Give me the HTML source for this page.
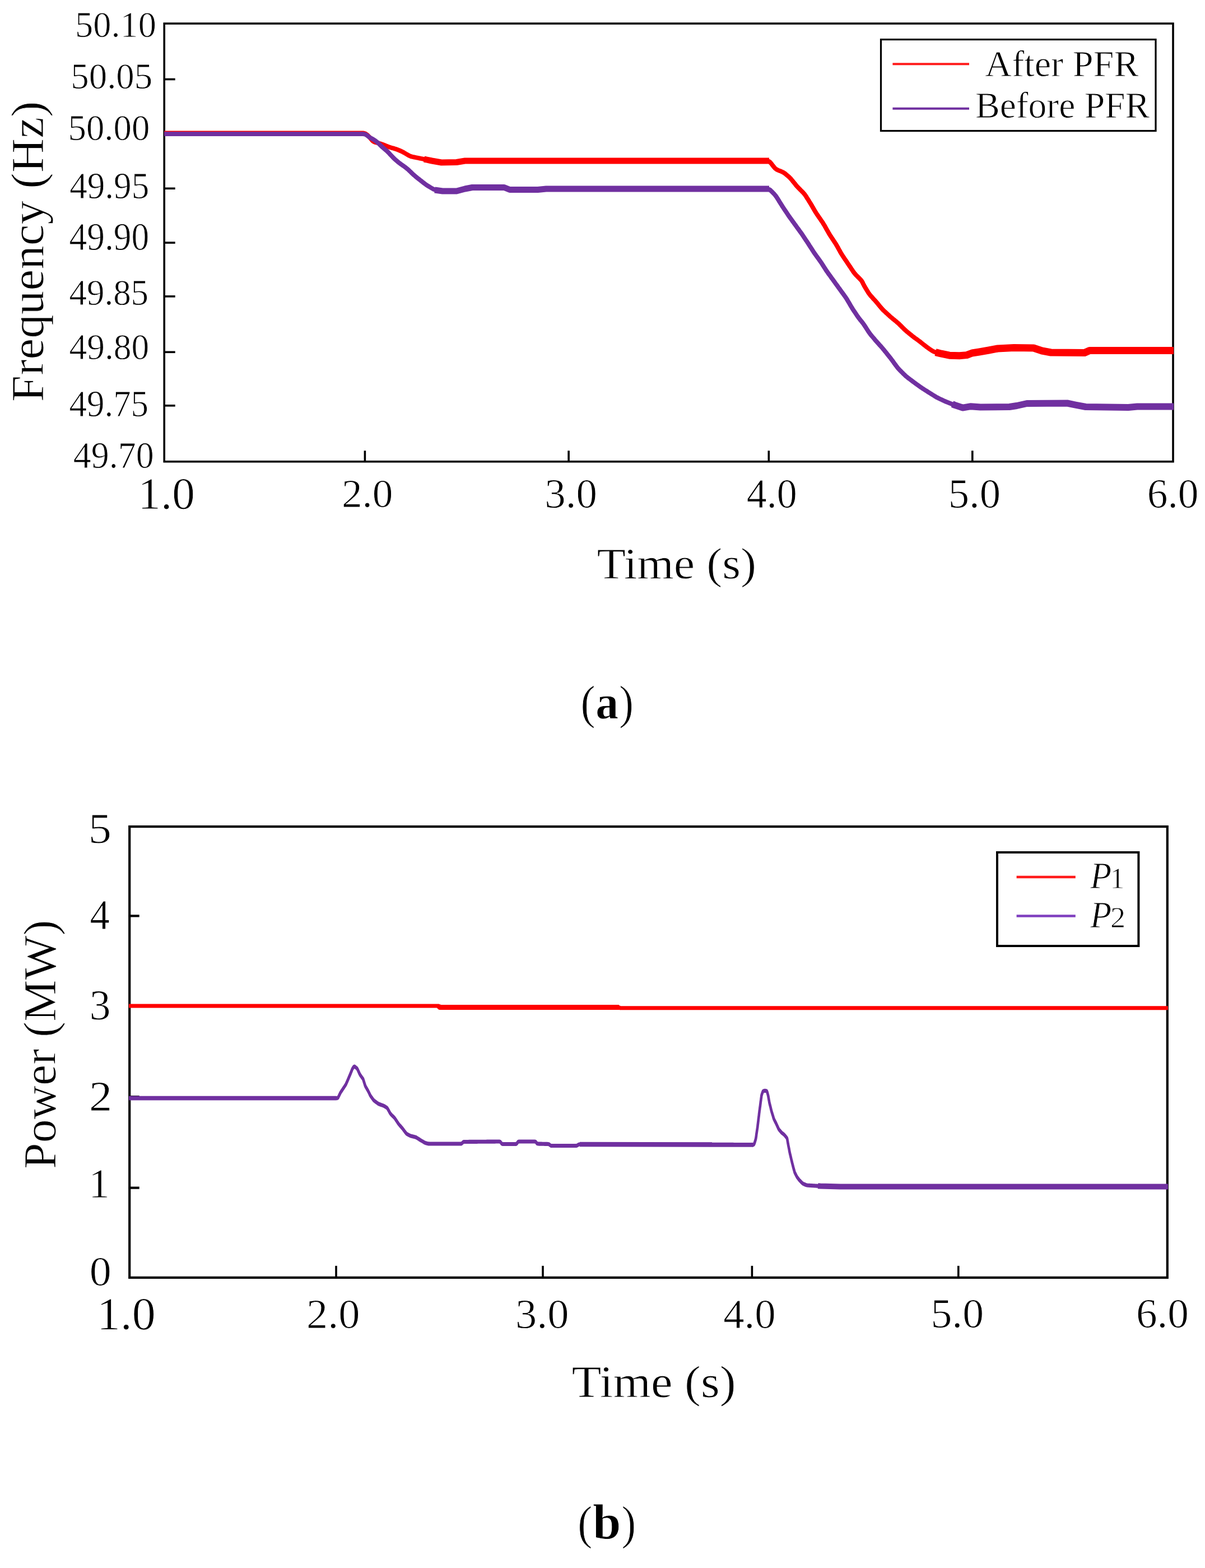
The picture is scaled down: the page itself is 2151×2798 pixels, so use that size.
<!DOCTYPE html>
<html><head><meta charset="utf-8"><title>Frequency and power response</title>
<style>html,body{margin:0;padding:0;background:#fff;overflow:hidden;}svg{display:block;}
text{font-family:"Liberation Serif", "DejaVu Serif", serif;fill:#000;stroke:#fff;stroke-width:0.9px;}</style></head>
<body><svg width="2151" height="2798" viewBox="0 0 2151 2798">
<rect width="2151" height="2798" fill="#fff"/>
<rect x="293.2" y="42" width="1800.8" height="781.7" fill="none" stroke="#000" stroke-width="3.6"/>
<line x1="293.2" y1="141.5" x2="312.7" y2="141.5" stroke="#000" stroke-width="3.6" stroke-linecap="butt"/>
<line x1="293.2" y1="239" x2="312.7" y2="239" stroke="#000" stroke-width="3.6" stroke-linecap="butt"/>
<line x1="293.2" y1="336.3" x2="312.7" y2="336.3" stroke="#000" stroke-width="3.6" stroke-linecap="butt"/>
<line x1="293.2" y1="433.1" x2="312.7" y2="433.1" stroke="#000" stroke-width="3.6" stroke-linecap="butt"/>
<line x1="293.2" y1="528.9" x2="312.7" y2="528.9" stroke="#000" stroke-width="3.6" stroke-linecap="butt"/>
<line x1="293.2" y1="628.3" x2="312.7" y2="628.3" stroke="#000" stroke-width="3.6" stroke-linecap="butt"/>
<line x1="293.2" y1="723.8" x2="312.7" y2="723.8" stroke="#000" stroke-width="3.6" stroke-linecap="butt"/>
<line x1="651.4" y1="823.7" x2="651.4" y2="804.2" stroke="#000" stroke-width="3.6" stroke-linecap="butt"/>
<line x1="1015.1" y1="823.7" x2="1015.1" y2="804.2" stroke="#000" stroke-width="3.6" stroke-linecap="butt"/>
<line x1="1372.3" y1="823.7" x2="1372.3" y2="804.2" stroke="#000" stroke-width="3.6" stroke-linecap="butt"/>
<line x1="1735.8" y1="823.7" x2="1735.8" y2="804.2" stroke="#000" stroke-width="3.6" stroke-linecap="butt"/>
<polyline points="293.2,237.5 294.4,237.5 296.1,237.5 298.0,237.5 300.0,237.5 302.0,237.5 304.0,237.5 306.0,237.5 308.0,237.5 310.0,237.5 312.0,237.5 314.0,237.5 316.0,237.5 318.0,237.5 320.0,237.5 322.0,237.5 324.0,237.5 326.0,237.5 328.0,237.5 330.0,237.5 332.0,237.5 334.0,237.5 336.0,237.5 338.0,237.5 340.0,237.5 342.0,237.5 344.0,237.5 346.0,237.5 348.0,237.5 350.0,237.5 352.0,237.5 354.0,237.5 356.0,237.5 358.0,237.5 360.0,237.5 362.0,237.5 364.0,237.5 366.0,237.5 368.0,237.5 370.0,237.5 372.0,237.5 374.0,237.5 376.0,237.5 378.0,237.5 380.0,237.5 382.0,237.5 384.0,237.5 386.0,237.5 388.0,237.5 390.0,237.5 392.0,237.5 394.0,237.5 396.0,237.5 398.0,237.5 400.0,237.5 402.0,237.5 404.0,237.5 406.0,237.5 408.0,237.5 410.0,237.5 412.0,237.5 414.0,237.5 416.0,237.5 418.0,237.5 420.0,237.5 422.0,237.5 424.0,237.5 426.0,237.5 428.0,237.5 430.0,237.5 432.0,237.5 434.0,237.5 436.0,237.5 438.0,237.5 440.0,237.5 442.0,237.5 444.0,237.5 446.0,237.5 448.0,237.5 450.0,237.5 452.0,237.5 454.0,237.5 456.0,237.5 458.0,237.5 460.0,237.5 462.0,237.5 464.0,237.5 466.0,237.5 468.0,237.5 470.0,237.5 472.0,237.5 474.0,237.5 476.0,237.5 478.0,237.5 480.0,237.5 482.0,237.5 484.0,237.5 486.0,237.5 488.0,237.5 490.0,237.5 492.0,237.5 494.0,237.5 496.0,237.5 498.0,237.5 500.0,237.5 502.0,237.5 504.0,237.5 506.0,237.5 508.0,237.5 510.0,237.5 512.0,237.5 514.0,237.5 516.0,237.5 518.0,237.5 520.0,237.5 522.0,237.5 524.0,237.5 526.0,237.5 528.0,237.5 530.0,237.5 532.0,237.5 534.0,237.5 536.0,237.5 538.0,237.5 540.0,237.5 542.0,237.5 544.0,237.5 546.0,237.5 548.0,237.5 550.0,237.5 552.0,237.5 554.0,237.5 556.0,237.5 558.0,237.5 560.0,237.5 562.0,237.5 564.0,237.5 566.0,237.5 568.0,237.5 570.0,237.5 572.0,237.5 574.0,237.5 576.0,237.5 578.0,237.5 580.0,237.5 582.0,237.5 584.0,237.5 586.0,237.5 588.0,237.5 590.0,237.5 592.0,237.5 594.0,237.5 596.0,237.5 598.0,237.5 600.0,237.5 602.0,237.5 604.0,237.5 606.0,237.5 608.0,237.5 610.0,237.5 612.0,237.5 614.0,237.5 616.0,237.5 618.0,237.5 620.0,237.5 622.0,237.5 624.0,237.5 626.0,237.5 628.0,237.5 630.0,237.5 632.0,237.5 634.0,237.5 636.0,237.5 638.0,237.5 640.0,237.5 642.0,237.5 644.0,237.5 646.0,237.5 648.0,237.6 649.9,237.8 651.7,238.3 653.3,239.2 654.9,240.3 656.4,241.6 657.8,243.0 659.2,244.4 660.5,245.9 661.8,247.5 663.0,249.0 664.3,250.5 665.7,251.8 667.3,252.8 669.0,253.6 670.9,254.2 672.8,254.7 674.8,255.2 676.7,255.7 678.6,256.3 680.5,256.9 682.4,257.6 684.3,258.3 686.1,259.0 688.0,259.8 689.8,260.6 691.7,261.3 693.5,262.0 695.4,262.6 697.3,263.2 699.3,263.8 701.2,264.3 703.1,264.9 705.0,265.5 706.9,266.1 708.8,266.8 710.7,267.5 712.5,268.2 714.4,269.0 716.2,269.8 718.0,270.7 719.7,271.6 721.5,272.6 723.2,273.6 724.9,274.6 726.6,275.6 728.3,276.7 730.1,277.6 731.9,278.5 733.7,279.1 735.6,279.7 737.6,280.1 739.5,280.5 741.5,280.9 743.4,281.3 745.4,281.7 747.4,282.1 749.3,282.5 751.3,282.9 753.3,283.3 755.2,283.6 757.2,284.1 759.1,284.5 761.1,284.9 763.0,285.3 765.0,285.7 767.0,286.1 768.9,286.5 770.9,286.9 772.8,287.3 774.8,287.7 776.8,288.0 778.7,288.4 780.7,288.7 782.7,289.1 784.7,289.4 786.6,289.6 788.6,289.8 790.6,289.9 792.6,289.9 794.6,289.9 796.6,289.8 798.6,289.8 800.6,289.8 802.6,289.7 804.6,289.7 806.6,289.7 808.6,289.6 810.6,289.6 812.6,289.5 814.6,289.4 816.6,289.2 818.5,288.9 820.5,288.6 822.5,288.3 824.5,287.9 826.4,287.6 828.4,287.4 830.4,287.2 832.4,287.1 834.4,287.0 836.4,287.0 838.4,287.0 840.4,287.0 842.4,287.0 844.4,287.0 846.4,287.0 848.4,287.0 850.4,287.0 852.4,287.0 854.4,287.0 856.4,287.0 858.4,287.0 860.4,287.0 862.4,287.0 864.4,287.0 866.4,287.0 868.4,287.0 870.4,287.0 872.4,287.0 874.4,287.0 876.4,287.0 878.4,287.0 880.4,287.0 882.4,287.0 884.4,287.0 886.4,287.0 888.4,287.0 890.4,287.0 892.4,287.0 894.4,287.0 896.4,287.0 898.4,287.0 900.4,287.0 902.4,287.0 904.4,287.0 906.4,287.0 908.4,287.0 910.4,287.0 912.4,287.0 914.4,287.0 916.4,287.0 918.4,287.0 920.4,287.0 922.4,287.0 924.4,287.0 926.4,287.0 928.4,287.0 930.4,287.0 932.4,287.0 934.4,287.0 936.4,287.0 938.4,287.0 940.4,287.0 942.4,287.0 944.4,287.0 946.4,287.0 948.4,287.0 950.4,287.0 952.4,287.0 954.4,287.0 956.4,287.0 958.4,287.0 960.4,287.0 962.4,287.0 964.4,287.0 966.4,287.0 968.4,287.0 970.4,287.0 972.4,287.0 974.4,287.0 976.4,287.0 978.4,287.0 980.4,287.0 982.4,287.0 984.4,287.0 986.4,287.0 988.4,287.0 990.4,287.0 992.4,287.0 994.4,287.0 996.4,287.0 998.4,287.0 1000.4,287.0 1002.4,287.0 1004.4,287.0 1006.4,287.0 1008.4,287.0 1010.4,287.0 1012.4,287.0 1014.4,287.0 1016.4,287.0 1018.4,287.0 1020.4,287.0 1022.4,287.0 1024.4,287.0 1026.4,287.0 1028.4,287.0 1030.4,287.0 1032.4,287.0 1034.4,287.0 1036.4,287.0 1038.4,287.0 1040.4,287.0 1042.4,287.0 1044.4,287.0 1046.4,287.0 1048.4,287.0 1050.4,287.0 1052.4,287.0 1054.4,287.0 1056.4,287.0 1058.4,287.0 1060.4,287.0 1062.4,287.0 1064.4,287.0 1066.4,287.0 1068.4,287.0 1070.4,287.0 1072.4,287.0 1074.4,287.0 1076.4,287.0 1078.4,287.0 1080.4,287.0 1082.4,287.0 1084.4,287.0 1086.4,287.0 1088.4,287.0 1090.4,287.0 1092.4,287.0 1094.4,287.0 1096.4,287.0 1098.4,287.0 1100.4,287.0 1102.4,287.0 1104.4,287.0 1106.4,287.0 1108.4,287.0 1110.4,287.0 1112.4,287.0 1114.4,287.0 1116.4,287.0 1118.4,287.0 1120.4,287.0 1122.4,287.0 1124.4,287.0 1126.4,287.0 1128.4,287.0 1130.4,287.0 1132.4,287.0 1134.4,287.0 1136.4,287.0 1138.4,287.0 1140.4,287.0 1142.4,287.0 1144.4,287.0 1146.4,287.0 1148.4,287.0 1150.4,287.0 1152.4,287.0 1154.4,287.0 1156.4,287.0 1158.4,287.0 1160.4,287.0 1162.4,287.0 1164.4,287.0 1166.4,287.0 1168.4,287.0 1170.4,287.0 1172.4,287.0 1174.4,287.0 1176.4,287.0 1178.4,287.0 1180.4,287.0 1182.4,287.0 1184.4,287.0 1186.4,287.0 1188.4,287.0 1190.4,287.0 1192.4,287.0 1194.4,287.0 1196.4,287.0 1198.4,287.0 1200.4,287.0 1202.4,287.0 1204.4,287.0 1206.4,287.0 1208.4,287.0 1210.4,287.0 1212.4,287.0 1214.4,287.0 1216.4,287.0 1218.4,287.0 1220.4,287.0 1222.4,287.0 1224.4,287.0 1226.4,287.0 1228.4,287.0 1230.4,287.0 1232.4,287.0 1234.4,287.0 1236.4,287.0 1238.4,287.0 1240.4,287.0 1242.4,287.0 1244.4,287.0 1246.4,287.0 1248.4,287.0 1250.4,287.0 1252.4,287.0 1254.4,287.0 1256.4,287.0 1258.4,287.0 1260.4,287.0 1262.4,287.0 1264.4,287.0 1266.4,287.0 1268.4,287.0 1270.4,287.0 1272.4,287.0 1274.4,287.0 1276.4,287.0 1278.4,287.0 1280.4,287.0 1282.4,287.0 1284.4,287.0 1286.4,287.0 1288.4,287.0 1290.4,287.0 1292.4,287.0 1294.4,287.0 1296.4,287.0 1298.4,287.0 1300.4,287.0 1302.4,287.0 1304.4,287.0 1306.4,287.0 1308.4,287.0 1310.4,287.0 1312.4,287.0 1314.4,287.0 1316.4,287.0 1318.4,287.0 1320.4,287.0 1322.4,287.0 1324.4,287.0 1326.4,287.0 1328.4,287.0 1330.4,287.0 1332.4,287.0 1334.4,287.0 1336.4,287.0 1338.4,287.0 1340.4,287.0 1342.4,287.0 1344.4,287.0 1346.4,287.0 1348.4,287.0 1350.4,287.0 1352.4,287.0 1354.4,287.0 1356.4,287.0 1358.4,287.0 1360.4,287.0 1362.4,287.0 1364.4,287.0 1366.4,287.0 1368.4,287.1 1370.3,287.2 1372.0,287.7 1373.6,288.6 1375.0,289.8 1376.3,291.3 1377.5,292.8 1378.7,294.4 1380.0,296.0 1381.2,297.6 1382.5,299.1 1383.8,300.5 1385.3,301.7 1387.0,302.7 1388.7,303.6 1390.6,304.4 1392.4,305.1 1394.3,305.8 1396.1,306.6 1397.9,307.5 1399.6,308.5 1401.2,309.6 1402.8,310.9 1404.3,312.2 1405.8,313.5 1407.3,314.8 1408.8,316.1 1410.2,317.5 1411.6,318.9 1412.9,320.5 1414.2,322.0 1415.4,323.6 1416.7,325.1 1417.9,326.7 1419.2,328.2 1420.4,329.8 1421.7,331.3 1423.0,332.8 1424.4,334.3 1425.8,335.7 1427.2,337.2 1428.6,338.6 1430.0,340.0 1431.4,341.4 1432.8,342.8 1434.2,344.3 1435.5,345.8 1436.7,347.3 1437.9,349.0 1439.0,350.6 1440.0,352.3 1441.1,354.0 1442.2,355.7 1443.3,357.4 1444.3,359.1 1445.4,360.8 1446.4,362.5 1447.5,364.2 1448.5,365.9 1449.5,367.6 1450.5,369.4 1451.5,371.1 1452.5,372.8 1453.5,374.6 1454.5,376.3 1455.5,378.0 1456.6,379.7 1457.7,381.4 1458.8,383.0 1459.9,384.7 1461.1,386.3 1462.2,388.0 1463.3,389.6 1464.5,391.3 1465.6,392.9 1466.7,394.6 1467.9,396.2 1469.0,397.9 1470.0,399.6 1471.1,401.3 1472.1,403.0 1473.1,404.8 1474.0,406.5 1475.0,408.2 1476.0,410.0 1477.0,411.7 1478.0,413.4 1479.0,415.2 1480.0,416.9 1481.0,418.6 1482.1,420.3 1483.2,422.0 1484.3,423.7 1485.4,425.3 1486.5,427.0 1487.6,428.7 1488.7,430.3 1489.8,432.0 1490.9,433.7 1492.0,435.3 1493.0,437.1 1494.0,438.8 1495.0,440.5 1496.0,442.3 1496.9,444.0 1497.9,445.8 1498.9,447.5 1499.8,449.3 1500.8,451.0 1501.8,452.7 1502.9,454.4 1504.0,456.1 1505.1,457.8 1506.2,459.4 1507.3,461.1 1508.4,462.8 1509.6,464.4 1510.7,466.1 1511.8,467.7 1512.9,469.4 1514.0,471.0 1515.1,472.7 1516.2,474.4 1517.4,476.0 1518.5,477.7 1519.6,479.4 1520.7,481.0 1521.8,482.7 1522.9,484.4 1524.1,486.0 1525.3,487.6 1526.5,489.1 1527.9,490.6 1529.3,492.0 1530.7,493.4 1532.1,494.8 1533.5,496.2 1534.9,497.7 1536.3,499.1 1537.6,500.6 1538.7,502.2 1539.7,504.0 1540.5,505.7 1541.4,507.5 1542.3,509.3 1543.3,511.1 1544.3,512.8 1545.3,514.5 1546.4,516.2 1547.4,517.9 1548.5,519.6 1549.5,521.3 1550.6,523.0 1551.7,524.6 1553.0,526.2 1554.2,527.7 1555.6,529.2 1556.9,530.7 1558.2,532.2 1559.6,533.7 1560.9,535.1 1562.3,536.6 1563.6,538.1 1564.9,539.7 1566.2,541.2 1567.5,542.7 1568.7,544.2 1570.0,545.8 1571.3,547.3 1572.6,548.9 1573.9,550.4 1575.2,551.9 1576.6,553.3 1578.0,554.7 1579.5,556.1 1581.0,557.4 1582.4,558.8 1583.9,560.1 1585.4,561.5 1586.9,562.8 1588.3,564.2 1589.8,565.5 1591.4,566.8 1592.9,568.1 1594.4,569.3 1596.0,570.6 1597.5,571.9 1599.1,573.1 1600.6,574.4 1602.1,575.7 1603.6,577.0 1605.1,578.4 1606.5,579.8 1607.9,581.2 1609.3,582.6 1610.8,584.1 1612.2,585.5 1613.6,586.9 1615.0,588.3 1616.5,589.6 1618.0,590.9 1619.5,592.2 1621.1,593.5 1622.6,594.8 1624.2,596.0 1625.7,597.3 1627.3,598.5 1628.9,599.8 1630.4,601.0 1632.0,602.2 1633.6,603.4 1635.3,604.6 1636.9,605.7 1638.5,606.9 1640.1,608.1 1641.7,609.3 1643.3,610.5 1644.9,611.8 1646.4,613.0 1648.0,614.3 1649.5,615.5 1651.1,616.7 1652.7,618.0 1654.3,619.2 1655.9,620.4 1657.5,621.5 1659.2,622.7 1660.8,623.8 1662.4,624.9 1664.1,626.0 1665.9,627.0 1667.7,627.7 1669.5,628.4 1671.5,628.9 1673.4,629.4 1675.3,629.9 1677.3,630.4 1679.2,630.8 1681.2,631.3 1683.1,631.7 1685.1,632.2 1687.0,632.6 1689.0,633.0 1690.9,633.4 1692.9,633.7 1694.9,634.0 1696.9,634.2 1698.9,634.3 1700.8,634.4 1702.8,634.5 1704.8,634.5 1706.8,634.6 1708.8,634.7 1710.8,634.7 1712.8,634.6 1714.8,634.5 1716.8,634.4 1718.8,634.2 1720.8,634.0 1722.8,633.8 1724.7,633.5 1726.7,633.0 1728.6,632.4 1730.5,631.8 1732.3,631.1 1734.2,630.5 1736.2,630.0 1738.1,629.6 1740.1,629.3 1742.0,628.9 1744.0,628.6 1746.0,628.3 1748.0,628.0 1749.9,627.6 1751.9,627.3 1753.9,627.0 1755.9,626.6 1757.8,626.3 1759.8,625.9 1761.8,625.6 1763.7,625.2 1765.7,624.9 1767.7,624.5 1769.6,624.1 1771.6,623.8 1773.6,623.4 1775.5,623.0 1777.5,622.7 1779.5,622.4 1781.4,622.1 1783.4,621.9 1785.4,621.8 1787.4,621.7 1789.4,621.6 1791.4,621.5 1793.4,621.4 1795.4,621.3 1797.4,621.2 1799.4,621.0 1801.4,620.9 1803.4,620.8 1805.4,620.7 1807.4,620.7 1809.4,620.6 1811.4,620.6 1813.4,620.6 1815.4,620.6 1817.4,620.6 1819.4,620.6 1821.4,620.7 1823.4,620.7 1825.4,620.7 1827.4,620.7 1829.4,620.8 1831.4,620.8 1833.4,620.8 1835.4,620.9 1837.4,620.9 1839.4,620.9 1841.4,621.0 1843.4,621.1 1845.3,621.4 1847.2,621.9 1849.2,622.4 1851.1,623.0 1853.0,623.7 1854.9,624.3 1856.8,624.9 1858.7,625.5 1860.6,626.0 1862.5,626.4 1864.5,626.8 1866.5,627.2 1868.4,627.6 1870.4,627.9 1872.4,628.3 1874.3,628.6 1876.3,628.8 1878.3,629.0 1880.3,629.0 1882.3,629.0 1884.3,629.1 1886.3,629.1 1888.3,629.1 1890.3,629.1 1892.3,629.1 1894.3,629.2 1896.3,629.2 1898.3,629.2 1900.3,629.2 1902.3,629.2 1904.3,629.2 1906.3,629.3 1908.3,629.3 1910.3,629.3 1912.3,629.3 1914.3,629.3 1916.3,629.3 1918.3,629.4 1920.3,629.4 1922.3,629.4 1924.3,629.4 1926.3,629.4 1928.3,629.4 1930.3,629.4 1932.3,629.4 1934.3,629.3 1936.2,628.9 1938.1,628.4 1939.9,627.7 1941.8,627.0 1943.6,626.4 1945.5,625.9 1947.5,625.6 1949.5,625.5 1951.4,625.5 1953.4,625.5 1955.4,625.5 1957.4,625.5 1959.4,625.5 1961.4,625.5 1963.4,625.5 1965.4,625.5 1967.4,625.5 1969.4,625.5 1971.4,625.5 1973.4,625.5 1975.4,625.5 1977.4,625.5 1979.4,625.5 1981.4,625.5 1983.4,625.5 1985.4,625.5 1987.4,625.5 1989.4,625.5 1991.4,625.5 1993.4,625.5 1995.4,625.5 1997.4,625.5 1999.4,625.5 2001.4,625.5 2003.4,625.5 2005.4,625.5 2007.4,625.5 2009.4,625.5 2011.4,625.5 2013.4,625.5 2015.4,625.5 2017.4,625.5 2019.4,625.5 2021.4,625.5 2023.4,625.5 2025.4,625.5 2027.4,625.5 2029.4,625.5 2031.4,625.5 2033.4,625.5 2035.4,625.5 2037.4,625.5 2039.4,625.5 2041.4,625.5 2043.4,625.5 2045.4,625.5 2047.4,625.5 2049.4,625.5 2051.4,625.5 2053.4,625.5 2055.4,625.5 2057.4,625.5 2059.4,625.5 2061.4,625.5 2063.4,625.5 2065.4,625.5 2067.4,625.5 2069.4,625.5 2071.4,625.5 2073.4,625.5 2075.4,625.5 2077.4,625.5 2079.4,625.5 2081.4,625.5 2083.4,625.5 2085.4,625.5 2087.4,625.5 2089.4,625.5 2091.2,625.5 2092.7,625.5 2094.4,625.5" fill="none" stroke="#ff0000" stroke-width="8" stroke-linejoin="round" stroke-linecap="butt"/>
<polyline points="757.0,284.0 771.0,287.0 788.0,290.0 815.0,289.5 830.0,287.0 1373.0,287.0" fill="none" stroke="#ff0000" stroke-width="11" stroke-linejoin="round" stroke-linecap="butt"/>
<polyline points="1670.0,628.6 1680.5,631.2 1694.8,634.2 1712.6,634.8 1725.7,633.6 1735.2,630.0 1748.0,628.0 1765.0,625.0 1781.0,622.0 1810.0,620.5 1845.0,621.0 1860.0,626.0 1876.0,629.0 1936.0,629.5 1945.0,625.5 2095.0,625.5" fill="none" stroke="#ff0000" stroke-width="13" stroke-linejoin="round" stroke-linecap="butt"/>
<polyline points="293.2,239.0 294.4,239.0 296.1,239.0 298.0,239.0 300.0,239.0 302.0,239.0 304.0,239.0 306.0,239.0 308.0,239.0 310.0,239.0 312.0,239.0 314.0,239.0 316.0,239.0 318.0,239.0 320.0,239.0 322.0,239.0 324.0,239.0 326.0,239.0 328.0,239.0 330.0,239.0 332.0,239.0 334.0,239.0 336.0,239.0 338.0,239.0 340.0,239.0 342.0,239.0 344.0,239.0 346.0,239.0 348.0,239.0 350.0,239.0 352.0,239.0 354.0,239.0 356.0,239.0 358.0,239.0 360.0,239.0 362.0,239.0 364.0,239.0 366.0,239.0 368.0,239.0 370.0,239.0 372.0,239.0 374.0,239.0 376.0,239.0 378.0,239.0 380.0,239.0 382.0,239.0 384.0,239.0 386.0,239.0 388.0,239.0 390.0,239.0 392.0,239.0 394.0,239.0 396.0,239.0 398.0,239.0 400.0,239.0 402.0,239.0 404.0,239.0 406.0,239.0 408.0,239.0 410.0,239.0 412.0,239.0 414.0,239.0 416.0,239.0 418.0,239.0 420.0,239.0 422.0,239.0 424.0,239.0 426.0,239.0 428.0,239.0 430.0,239.0 432.0,239.0 434.0,239.0 436.0,239.0 438.0,239.0 440.0,239.0 442.0,239.0 444.0,239.0 446.0,239.0 448.0,239.0 450.0,239.0 452.0,239.0 454.0,239.0 456.0,239.0 458.0,239.0 460.0,239.0 462.0,239.0 464.0,239.0 466.0,239.0 468.0,239.0 470.0,239.0 472.0,239.0 474.0,239.0 476.0,239.0 478.0,239.0 480.0,239.0 482.0,239.0 484.0,239.0 486.0,239.0 488.0,239.0 490.0,239.0 492.0,239.0 494.0,239.0 496.0,239.0 498.0,239.0 500.0,239.0 502.0,239.0 504.0,239.0 506.0,239.0 508.0,239.0 510.0,239.0 512.0,239.0 514.0,239.0 516.0,239.0 518.0,239.0 520.0,239.0 522.0,239.0 524.0,239.0 526.0,239.0 528.0,239.0 530.0,239.0 532.0,239.0 534.0,239.0 536.0,239.0 538.0,239.0 540.0,239.0 542.0,239.0 544.0,239.0 546.0,239.0 548.0,239.0 550.0,239.0 552.0,239.0 554.0,239.0 556.0,239.0 558.0,239.0 560.0,239.0 562.0,239.0 564.0,239.0 566.0,239.0 568.0,239.0 570.0,239.0 572.0,239.0 574.0,239.0 576.0,239.0 578.0,239.0 580.0,239.0 582.0,239.0 584.0,239.0 586.0,239.0 588.0,239.0 590.0,239.0 592.0,239.0 594.0,239.0 596.0,239.0 598.0,239.0 600.0,239.0 602.0,239.0 604.0,239.0 606.0,239.0 608.0,239.0 610.0,239.0 612.0,239.0 614.0,239.0 616.0,239.0 618.0,239.0 620.0,239.0 622.0,239.0 624.0,239.0 626.0,239.0 628.0,239.0 630.0,239.0 632.0,239.0 634.0,239.0 636.0,239.0 638.0,239.0 640.0,239.0 642.0,239.0 644.0,239.0 646.0,239.0 648.0,239.1 649.9,239.3 651.7,239.7 653.5,240.5 655.1,241.6 656.7,242.8 658.3,244.0 659.9,245.1 661.6,246.2 663.3,247.1 665.1,248.1 666.8,249.0 668.5,250.1 670.1,251.3 671.7,252.5 673.2,253.7 674.8,255.0 676.2,256.4 677.7,257.8 679.1,259.2 680.5,260.6 682.0,262.0 683.4,263.3 684.9,264.6 686.5,265.9 688.0,267.2 689.5,268.5 691.0,269.8 692.4,271.2 693.8,272.6 695.2,274.1 696.5,275.6 697.9,277.0 699.3,278.5 700.7,279.9 702.1,281.4 703.5,282.8 704.9,284.2 706.4,285.5 707.9,286.8 709.4,288.1 711.0,289.4 712.5,290.6 714.1,291.8 715.7,293.0 717.4,294.1 719.0,295.3 720.7,296.4 722.3,297.6 723.9,298.8 725.4,300.1 727.0,301.3 728.5,302.6 730.0,303.9 731.4,305.3 732.9,306.7 734.3,308.1 735.7,309.5 737.2,310.9 738.6,312.2 740.2,313.5 741.7,314.8 743.3,316.1 744.8,317.3 746.4,318.6 747.9,319.8 749.5,321.0 751.1,322.3 752.7,323.5 754.2,324.8 755.8,326.0 757.4,327.2 759.0,328.4 760.6,329.6 762.2,330.7 763.9,331.8 765.6,332.8 767.4,333.9 769.1,334.9 770.8,335.9 772.5,336.9 774.3,337.8 776.1,338.5 778.0,339.1 779.9,339.5 781.9,339.8 783.9,340.1 785.8,340.4 787.8,340.6 789.8,340.8 791.8,340.9 793.8,341.0 795.8,341.0 797.8,341.0 799.8,341.0 801.8,341.0 803.8,341.0 805.8,341.0 807.8,341.0 809.8,341.0 811.8,340.9 813.8,340.8 815.7,340.6 817.7,340.2 819.6,339.7 821.6,339.2 823.5,338.7 825.4,338.2 827.4,337.7 829.3,337.2 831.3,336.8 833.2,336.4 835.2,336.0 837.1,335.6 839.1,335.3 841.1,335.0 843.1,334.7 845.0,334.6 847.0,334.5 849.0,334.5 851.0,334.5 853.0,334.5 855.0,334.5 857.0,334.5 859.0,334.5 861.0,334.5 863.0,334.5 865.0,334.5 867.0,334.5 869.0,334.5 871.0,334.5 873.0,334.5 875.0,334.5 877.0,334.5 879.0,334.5 881.0,334.5 883.0,334.5 885.0,334.5 887.0,334.5 889.0,334.5 891.0,334.5 893.0,334.5 895.0,334.5 897.0,334.6 899.0,334.8 900.9,335.2 902.8,335.7 904.7,336.4 906.5,337.1 908.4,337.7 910.3,338.1 912.3,338.4 914.3,338.5 916.3,338.5 918.3,338.5 920.3,338.5 922.3,338.5 924.3,338.5 926.3,338.5 928.3,338.5 930.3,338.5 932.3,338.5 934.3,338.5 936.3,338.5 938.3,338.5 940.3,338.5 942.3,338.5 944.3,338.5 946.3,338.5 948.3,338.5 950.3,338.5 952.3,338.5 954.3,338.5 956.3,338.5 958.3,338.4 960.3,338.4 962.3,338.2 964.2,338.1 966.2,337.9 968.2,337.7 970.2,337.5 972.2,337.3 974.2,337.2 976.2,337.1 978.2,337.0 980.2,337.0 982.2,337.0 984.2,337.0 986.2,337.0 988.2,337.0 990.2,337.0 992.2,337.0 994.2,337.0 996.2,337.0 998.2,337.0 1000.2,337.0 1002.2,337.0 1004.2,337.0 1006.2,337.0 1008.2,337.0 1010.2,337.0 1012.2,337.0 1014.2,337.0 1016.2,337.0 1018.2,337.0 1020.2,337.0 1022.2,337.0 1024.2,337.0 1026.2,337.0 1028.2,337.0 1030.2,337.0 1032.2,337.0 1034.2,337.0 1036.2,337.0 1038.2,337.0 1040.2,337.0 1042.2,337.0 1044.2,337.0 1046.2,337.0 1048.2,337.0 1050.2,337.0 1052.2,337.0 1054.2,337.0 1056.2,337.0 1058.2,337.0 1060.2,337.0 1062.2,337.0 1064.2,337.0 1066.2,337.0 1068.2,337.0 1070.2,337.0 1072.2,337.0 1074.2,337.0 1076.2,337.0 1078.2,337.0 1080.2,337.0 1082.2,337.0 1084.2,337.0 1086.2,337.0 1088.2,337.0 1090.2,337.0 1092.2,337.0 1094.2,337.0 1096.2,337.0 1098.2,337.0 1100.2,337.0 1102.2,337.0 1104.2,337.0 1106.2,337.0 1108.2,337.0 1110.2,337.0 1112.2,337.0 1114.2,337.0 1116.2,337.0 1118.2,337.0 1120.2,337.0 1122.2,337.0 1124.2,337.0 1126.2,337.0 1128.2,337.0 1130.2,337.0 1132.2,337.0 1134.2,337.0 1136.2,337.0 1138.2,337.0 1140.2,337.0 1142.2,337.0 1144.2,337.0 1146.2,337.0 1148.2,337.0 1150.2,337.0 1152.2,337.0 1154.2,337.0 1156.2,337.0 1158.2,337.0 1160.2,337.0 1162.2,337.0 1164.2,337.0 1166.2,337.0 1168.2,337.0 1170.2,337.0 1172.2,337.0 1174.2,337.0 1176.2,337.0 1178.2,337.0 1180.2,337.0 1182.2,337.0 1184.2,337.0 1186.2,337.0 1188.2,337.0 1190.2,337.0 1192.2,337.0 1194.2,337.0 1196.2,337.0 1198.2,337.0 1200.2,337.0 1202.2,337.0 1204.2,337.0 1206.2,337.0 1208.2,337.0 1210.2,337.0 1212.2,337.0 1214.2,337.0 1216.2,337.0 1218.2,337.0 1220.2,337.0 1222.2,337.0 1224.2,337.0 1226.2,337.0 1228.2,337.0 1230.2,337.0 1232.2,337.0 1234.2,337.0 1236.2,337.0 1238.2,337.0 1240.2,337.0 1242.2,337.0 1244.2,337.0 1246.2,337.0 1248.2,337.0 1250.2,337.0 1252.2,337.0 1254.2,337.0 1256.2,337.0 1258.2,337.0 1260.2,337.0 1262.2,337.0 1264.2,337.0 1266.2,337.0 1268.2,337.0 1270.2,337.0 1272.2,337.0 1274.2,337.0 1276.2,337.0 1278.2,337.0 1280.2,337.0 1282.2,337.0 1284.2,337.0 1286.2,337.0 1288.2,337.0 1290.2,337.0 1292.2,337.0 1294.2,337.0 1296.2,337.0 1298.2,337.0 1300.2,337.0 1302.2,337.0 1304.2,337.0 1306.2,337.0 1308.2,337.0 1310.2,337.0 1312.2,337.0 1314.2,337.0 1316.2,337.0 1318.2,337.0 1320.2,337.0 1322.2,337.0 1324.2,337.0 1326.2,337.0 1328.2,337.0 1330.2,337.0 1332.2,337.0 1334.2,337.0 1336.2,337.0 1338.2,337.0 1340.2,337.0 1342.2,337.0 1344.2,337.0 1346.2,337.0 1348.2,337.0 1350.2,337.0 1352.2,337.0 1354.2,337.0 1356.2,337.0 1358.2,337.0 1360.2,337.0 1362.2,337.0 1364.2,337.0 1366.2,337.0 1368.2,337.0 1370.1,337.2 1371.9,337.6 1373.6,338.3 1375.2,339.4 1376.6,340.8 1378.0,342.2 1379.4,343.6 1380.8,345.0 1382.2,346.5 1383.5,348.0 1384.7,349.5 1385.9,351.1 1387.0,352.8 1388.1,354.5 1389.1,356.2 1390.2,357.9 1391.2,359.6 1392.3,361.3 1393.3,363.0 1394.4,364.7 1395.5,366.4 1396.5,368.1 1397.6,369.7 1398.7,371.4 1399.8,373.1 1400.9,374.7 1402.1,376.4 1403.2,378.1 1404.3,379.7 1405.4,381.4 1406.5,383.1 1407.6,384.7 1408.8,386.4 1409.9,388.0 1411.1,389.6 1412.3,391.2 1413.4,392.8 1414.6,394.5 1415.8,396.1 1417.0,397.7 1418.1,399.3 1419.3,400.9 1420.5,402.5 1421.7,404.2 1422.8,405.8 1424.0,407.4 1425.2,409.0 1426.4,410.6 1427.5,412.3 1428.7,413.9 1429.9,415.5 1431.0,417.1 1432.2,418.8 1433.3,420.4 1434.4,422.1 1435.5,423.8 1436.6,425.4 1437.7,427.1 1438.8,428.8 1440.0,430.4 1441.1,432.1 1442.2,433.8 1443.3,435.4 1444.3,437.1 1445.4,438.8 1446.5,440.5 1447.6,442.2 1448.7,443.8 1449.7,445.5 1450.8,447.2 1451.9,448.9 1453.0,450.6 1454.1,452.2 1455.3,453.8 1456.5,455.5 1457.6,457.1 1458.8,458.7 1460.0,460.3 1461.2,461.9 1462.3,463.6 1463.5,465.2 1464.6,466.8 1465.8,468.5 1466.9,470.1 1468.0,471.8 1469.0,473.5 1470.1,475.2 1471.2,476.9 1472.3,478.6 1473.4,480.2 1474.4,481.9 1475.6,483.6 1476.7,485.2 1477.9,486.8 1479.0,488.5 1480.2,490.1 1481.4,491.7 1482.6,493.3 1483.7,494.9 1484.9,496.6 1486.1,498.2 1487.3,499.8 1488.4,501.4 1489.6,503.0 1490.8,504.7 1491.9,506.3 1493.1,507.9 1494.3,509.5 1495.5,511.1 1496.6,512.8 1497.8,514.4 1499.0,516.0 1500.1,517.6 1501.3,519.2 1502.5,520.9 1503.7,522.5 1504.9,524.1 1506.0,525.7 1507.2,527.3 1508.4,529.0 1509.5,530.6 1510.6,532.2 1511.7,533.9 1512.7,535.6 1513.7,537.4 1514.8,539.1 1515.8,540.8 1516.8,542.5 1517.8,544.3 1518.8,546.0 1519.8,547.7 1520.9,549.4 1521.9,551.1 1523.0,552.8 1524.1,554.4 1525.3,556.1 1526.4,557.8 1527.5,559.4 1528.6,561.1 1529.7,562.8 1530.8,564.4 1532.0,566.0 1533.2,567.7 1534.4,569.2 1535.6,570.8 1536.9,572.3 1538.2,573.9 1539.4,575.5 1540.6,577.0 1541.8,578.7 1542.9,580.3 1544.0,582.0 1545.1,583.7 1546.2,585.4 1547.2,587.0 1548.3,588.7 1549.4,590.4 1550.5,592.1 1551.7,593.7 1552.8,595.3 1554.1,596.9 1555.3,598.4 1556.6,600.0 1557.9,601.5 1559.2,603.0 1560.5,604.6 1561.7,606.1 1563.0,607.6 1564.3,609.1 1565.7,610.6 1567.0,612.1 1568.4,613.6 1569.7,615.1 1571.0,616.6 1572.4,618.1 1573.7,619.5 1575.0,621.0 1576.3,622.6 1577.6,624.1 1578.9,625.7 1580.1,627.2 1581.4,628.8 1582.6,630.3 1583.9,631.9 1585.1,633.4 1586.4,635.0 1587.6,636.6 1588.9,638.1 1590.1,639.7 1591.3,641.3 1592.5,642.9 1593.7,644.5 1594.9,646.1 1596.0,647.8 1597.2,649.4 1598.4,651.0 1599.6,652.6 1600.8,654.2 1602.0,655.8 1603.3,657.3 1604.6,658.8 1606.0,660.3 1607.4,661.7 1608.8,663.1 1610.2,664.5 1611.6,665.9 1613.0,667.3 1614.5,668.7 1615.9,670.1 1617.4,671.5 1618.9,672.7 1620.5,674.0 1622.1,675.2 1623.7,676.4 1625.3,677.6 1626.9,678.8 1628.5,680.0 1630.1,681.2 1631.7,682.4 1633.3,683.6 1634.9,684.7 1636.5,685.9 1638.2,687.1 1639.8,688.3 1641.4,689.4 1643.0,690.6 1644.7,691.7 1646.3,692.8 1648.0,693.9 1649.7,695.0 1651.4,696.1 1653.1,697.1 1654.8,698.2 1656.5,699.3 1658.1,700.3 1659.8,701.4 1661.5,702.5 1663.2,703.5 1664.9,704.6 1666.6,705.6 1668.3,706.7 1670.0,707.7 1671.7,708.8 1673.5,709.7 1675.3,710.6 1677.1,711.5 1678.9,712.4 1680.7,713.2 1682.5,714.0 1684.3,714.9 1686.2,715.7 1688.0,716.5 1689.8,717.3 1691.7,718.0 1693.5,718.7 1695.4,719.5 1697.3,720.2 1699.1,720.9 1701.0,721.6 1702.9,722.3 1704.8,723.0 1706.6,723.7 1708.5,724.3 1710.4,724.9 1712.3,725.5 1714.2,726.1 1716.2,726.6 1718.1,727.0 1720.0,727.1 1722.0,726.9 1723.9,726.7 1725.9,726.4 1727.9,726.1 1729.9,725.8 1731.8,725.6 1733.8,725.5 1735.8,725.5 1737.8,725.6 1739.8,725.7 1741.8,725.9 1743.8,726.0 1745.8,726.2 1747.8,726.3 1749.8,726.4 1751.8,726.4 1753.8,726.5 1755.8,726.4 1757.8,726.4 1759.8,726.4 1761.8,726.4 1763.8,726.4 1765.8,726.3 1767.8,726.3 1769.8,726.3 1771.8,726.3 1773.8,726.3 1775.8,726.3 1777.8,726.2 1779.8,726.2 1781.8,726.2 1783.8,726.2 1785.8,726.2 1787.8,726.1 1789.8,726.1 1791.8,726.1 1793.8,726.1 1795.8,726.1 1797.8,726.0 1799.8,726.0 1801.7,725.8 1803.7,725.7 1805.7,725.4 1807.7,725.1 1809.7,724.8 1811.6,724.5 1813.6,724.2 1815.6,723.8 1817.5,723.4 1819.5,723.0 1821.5,722.6 1823.4,722.1 1825.4,721.7 1827.3,721.3 1829.3,720.9 1831.2,720.5 1833.2,720.2 1835.2,720.1 1837.2,720.0 1839.2,720.0 1841.2,719.9 1843.2,719.9 1845.2,719.9 1847.2,719.9 1849.2,719.9 1851.2,719.9 1853.2,719.9 1855.2,719.8 1857.2,719.8 1859.2,719.8 1861.2,719.8 1863.2,719.8 1865.2,719.8 1867.2,719.8 1869.2,719.7 1871.2,719.7 1873.2,719.7 1875.2,719.7 1877.2,719.7 1879.2,719.7 1881.2,719.7 1883.2,719.7 1885.2,719.6 1887.2,719.6 1889.2,719.6 1891.2,719.6 1893.2,719.6 1895.2,719.6 1897.2,719.6 1899.2,719.5 1901.2,719.6 1903.2,719.6 1905.1,719.8 1907.1,720.0 1909.1,720.4 1911.0,720.8 1913.0,721.2 1915.0,721.6 1916.9,722.0 1918.9,722.4 1920.8,722.7 1922.8,723.1 1924.8,723.5 1926.7,723.9 1928.7,724.2 1930.7,724.6 1932.6,725.0 1934.6,725.3 1936.6,725.6 1938.5,725.8 1940.5,726.0 1942.5,726.0 1944.5,726.1 1946.5,726.1 1948.5,726.1 1950.5,726.2 1952.5,726.2 1954.5,726.2 1956.5,726.2 1958.5,726.3 1960.5,726.3 1962.5,726.3 1964.5,726.3 1966.5,726.4 1968.5,726.4 1970.5,726.4 1972.5,726.5 1974.5,726.5 1976.5,726.5 1978.5,726.5 1980.5,726.6 1982.5,726.6 1984.5,726.6 1986.5,726.6 1988.5,726.7 1990.5,726.7 1992.5,726.7 1994.5,726.7 1996.5,726.8 1998.5,726.8 2000.5,726.8 2002.5,726.8 2004.5,726.9 2006.5,726.9 2008.5,726.9 2010.5,726.9 2012.5,726.9 2014.5,726.8 2016.5,726.7 2018.5,726.6 2020.5,726.4 2022.5,726.2 2024.5,726.0 2026.5,725.8 2028.5,725.7 2030.5,725.6 2032.5,725.5 2034.5,725.5 2036.5,725.5 2038.5,725.5 2040.5,725.5 2042.5,725.5 2044.5,725.5 2046.5,725.5 2048.5,725.5 2050.5,725.5 2052.5,725.5 2054.5,725.5 2056.5,725.5 2058.5,725.5 2060.5,725.5 2062.5,725.5 2064.5,725.5 2066.5,725.5 2068.5,725.5 2070.5,725.5 2072.5,725.5 2074.5,725.5 2076.5,725.5 2078.5,725.5 2080.5,725.5 2082.5,725.5 2084.5,725.5 2086.5,725.5 2088.4,725.5 2090.3,725.5 2092.0,725.5 2093.3,725.5 2094.5,725.5" fill="none" stroke="#7030a0" stroke-width="8" stroke-linejoin="round" stroke-linecap="butt"/>
<polyline points="776.0,339.0 790.0,341.0 815.0,341.0 830.0,337.0 843.0,334.5 900.0,334.5 910.0,338.5 960.0,338.5 975.0,337.0 1373.0,337.0" fill="none" stroke="#7030a0" stroke-width="11" stroke-linejoin="round" stroke-linecap="butt"/>
<polyline points="1700.0,721.2 1704.3,722.9 1718.6,727.6 1732.9,725.2 1750.0,726.5 1802.0,726.0 1815.0,724.0 1833.0,720.0 1905.0,719.5 1920.0,722.6 1938.0,726.0 2014.0,727.0 2030.0,725.5 2095.0,725.5" fill="none" stroke="#7030a0" stroke-width="12" stroke-linejoin="round" stroke-linecap="butt"/>
<text transform="translate(134.04 66.01) scale(0.9706 1)" font-size="66.32">50.10</text>
<text transform="translate(126.31 157.52) scale(0.9952 1)" font-size="65.15">50.05</text>
<text transform="translate(121.51 249.80) scale(0.9754 1)" font-size="66.47">50.00</text>
<text transform="translate(124.14 353.58) scale(0.9253 1)" font-size="68.30">49.95</text>
<text transform="translate(123.43 445.76) scale(0.9125 1)" font-size="69.56">49.90</text>
<text transform="translate(123.44 543.70) scale(0.9473 1)" font-size="66.47">49.85</text>
<text transform="translate(123.43 640.62) scale(0.9765 1)" font-size="65.00">49.80</text>
<text transform="translate(123.44 742.69) scale(0.9383 1)" font-size="67.11">49.75</text>
<text transform="translate(130.82 835.30) scale(0.9596 1)" font-size="66.62">49.70</text>
<text transform="translate(246.29 908.09) scale(1.0045 1)" font-size="80.88">1.0</text>
<text transform="translate(609.90 904.64) scale(1.0342 1)" font-size="70.88">2.0</text>
<text transform="translate(972.33 905.89) scale(1.0099 1)" font-size="74.12">3.0</text>
<text transform="translate(1332.86 905.90) scale(0.9794 1)" font-size="73.53">4.0</text>
<text transform="translate(1692.72 906.29) scale(1.0138 1)" font-size="73.68">5.0</text>
<text transform="translate(2047.87 905.90) scale(0.9973 1)" font-size="73.53">6.0</text>
<text transform="translate(1065.42 1032.27) scale(1.0821 1)" font-size="77.80">Time (s)</text>
<text transform="translate(76.89 717.15) rotate(-90) scale(1.0219 1)" font-size="83.30">Frequency (Hz)</text>
<rect x="1572.5" y="70.5" width="490.5" height="163.0" fill="none" stroke="#000" stroke-width="3.2"/>
<line x1="1593.4" y1="114.3" x2="1730" y2="114.3" stroke="#ff1a1a" stroke-width="4" stroke-linecap="butt"/>
<line x1="1593.4" y1="193.7" x2="1730" y2="193.7" stroke="#7030a0" stroke-width="4" stroke-linecap="butt"/>
<text transform="translate(1758.34 135.55) scale(1.0148 1)" font-size="65.31">After PFR</text>
<text transform="translate(1740.93 209.85) scale(1.0039 1)" font-size="65.31">Before PFR</text>
<rect x="231.2" y="1475" width="1852.6" height="804.8" fill="none" stroke="#000" stroke-width="4.2"/>
<line x1="231.2" y1="1634.4" x2="248.7" y2="1634.4" stroke="#000" stroke-width="4.2" stroke-linecap="butt"/>
<line x1="231.2" y1="1957.2" x2="248.7" y2="1957.2" stroke="#000" stroke-width="4.2" stroke-linecap="butt"/>
<line x1="231.2" y1="2119.6" x2="248.7" y2="2119.6" stroke="#000" stroke-width="4.2" stroke-linecap="butt"/>
<line x1="600" y1="2279.8" x2="600" y2="2258.8" stroke="#000" stroke-width="3.6" stroke-linecap="butt"/>
<line x1="969" y1="2279.8" x2="969" y2="2258.8" stroke="#000" stroke-width="3.6" stroke-linecap="butt"/>
<line x1="1342.4" y1="2279.8" x2="1342.4" y2="2258.8" stroke="#000" stroke-width="3.6" stroke-linecap="butt"/>
<line x1="1710.8" y1="2279.8" x2="1710.8" y2="2258.8" stroke="#000" stroke-width="3.6" stroke-linecap="butt"/>
<polyline points="230.0,1795.0 783.0,1795.0 785.0,1797.5 1105.0,1797.5 1107.0,1798.7 2085.0,1798.7" fill="none" stroke="#ff0000" stroke-width="7" stroke-linejoin="round" stroke-linecap="butt"/>
<polyline points="783.0,1795.0 785.0,1797.5 1105.0,1797.5" fill="none" stroke="#ff0000" stroke-width="9" stroke-linejoin="round" stroke-linecap="butt"/>
<g transform="scale(1 1.55)"><polyline points="230.3,1264.26 232.0,1264.26 234.0,1264.26 236.0,1264.26 238.0,1264.26 240.0,1264.26 242.0,1264.26 244.0,1264.26 246.0,1264.26 248.0,1264.26 250.0,1264.26 252.0,1264.26 254.0,1264.26 256.0,1264.26 258.0,1264.26 260.0,1264.26 262.0,1264.26 264.0,1264.26 266.0,1264.26 268.0,1264.26 270.0,1264.26 272.0,1264.26 274.0,1264.26 276.0,1264.26 278.0,1264.26 280.0,1264.26 282.0,1264.26 284.0,1264.26 286.0,1264.26 288.0,1264.26 290.0,1264.26 292.0,1264.26 294.0,1264.26 296.0,1264.26 298.0,1264.26 300.0,1264.26 302.0,1264.26 304.0,1264.26 306.0,1264.26 308.0,1264.26 310.0,1264.26 312.0,1264.26 314.0,1264.26 316.0,1264.26 318.0,1264.26 320.0,1264.26 322.0,1264.26 324.0,1264.26 326.0,1264.26 328.0,1264.26 330.0,1264.26 332.0,1264.26 334.0,1264.26 336.0,1264.26 338.0,1264.26 340.0,1264.26 342.0,1264.26 344.0,1264.26 346.0,1264.26 348.0,1264.26 350.0,1264.26 352.0,1264.26 354.0,1264.26 356.0,1264.26 358.0,1264.26 360.0,1264.26 362.0,1264.26 364.0,1264.26 366.0,1264.26 368.0,1264.26 370.0,1264.26 372.0,1264.26 374.0,1264.26 376.0,1264.26 378.0,1264.26 380.0,1264.26 382.0,1264.26 384.0,1264.26 386.0,1264.26 388.0,1264.26 390.0,1264.26 392.0,1264.26 394.0,1264.26 396.0,1264.26 398.0,1264.26 400.0,1264.26 402.0,1264.26 404.0,1264.26 406.0,1264.26 408.0,1264.26 410.0,1264.26 412.0,1264.26 414.0,1264.26 416.0,1264.26 418.0,1264.26 420.0,1264.26 422.0,1264.26 424.0,1264.26 426.0,1264.26 428.0,1264.26 430.0,1264.26 432.0,1264.26 434.0,1264.26 436.0,1264.26 438.0,1264.26 440.0,1264.26 442.0,1264.26 444.0,1264.26 446.0,1264.26 448.0,1264.26 450.0,1264.26 452.0,1264.26 454.0,1264.26 456.0,1264.26 458.0,1264.26 460.0,1264.26 462.0,1264.26 464.0,1264.26 466.0,1264.26 468.0,1264.26 470.0,1264.26 472.0,1264.26 474.0,1264.26 476.0,1264.26 478.0,1264.26 480.0,1264.26 482.0,1264.26 484.0,1264.26 486.0,1264.26 488.0,1264.26 490.0,1264.26 492.0,1264.26 494.0,1264.26 496.0,1264.26 498.0,1264.26 500.0,1264.26 502.0,1264.26 504.0,1264.26 506.0,1264.26 508.0,1264.26 510.0,1264.26 512.0,1264.26 514.0,1264.26 516.0,1264.26 518.0,1264.26 520.0,1264.26 522.0,1264.26 524.0,1264.26 526.0,1264.26 528.0,1264.26 530.0,1264.26 532.0,1264.26 534.0,1264.26 536.0,1264.26 538.0,1264.26 540.0,1264.26 542.0,1264.26 544.0,1264.26 546.0,1264.26 548.0,1264.26 550.0,1264.26 552.0,1264.26 554.0,1264.26 556.0,1264.26 558.0,1264.26 560.0,1264.26 562.0,1264.26 564.0,1264.26 566.0,1264.26 568.0,1264.26 570.0,1264.26 572.0,1264.26 574.0,1264.26 576.0,1264.26 578.0,1264.26 580.0,1264.26 582.0,1264.26 584.0,1264.26 586.0,1264.26 588.0,1264.26 590.0,1264.26 592.0,1264.26 594.0,1264.26 596.0,1264.26 598.0,1264.26 600.0,1264.26 602.0,1264.25 603.4,1263.66 604.3,1262.52 605.2,1261.36 606.1,1260.19 606.9,1259.03 607.8,1257.88 608.9,1256.79 610.0,1255.71 611.1,1254.64 612.2,1253.56 613.3,1252.49 614.4,1251.41 615.5,1250.34 616.6,1249.26 617.6,1248.15 618.4,1246.97 619.2,1245.78 620.0,1244.60 620.8,1243.41 621.6,1242.22 622.4,1241.04 623.1,1239.85 623.9,1238.67 624.7,1237.48 625.5,1236.28 626.2,1235.08 627.0,1233.89 627.7,1232.69 628.4,1231.49 629.2,1230.31 630.3,1229.23 631.5,1228.19 632.8,1227.77 634.3,1228.44 635.9,1229.25 637.4,1230.09 638.3,1231.19 639.2,1232.36 640.0,1233.54 640.8,1234.72 641.6,1235.90 642.5,1237.05 643.6,1238.12 644.8,1239.17 645.9,1240.22 647.1,1241.28 648.2,1242.35 648.8,1243.55 649.4,1244.79 650.0,1246.02 650.6,1247.26 651.2,1248.49 651.8,1249.72 652.6,1250.88 653.6,1252.00 654.6,1253.12 655.6,1254.24 656.6,1255.36 657.5,1256.51 658.4,1257.67 659.3,1258.83 660.1,1259.98 661.0,1261.13 662.1,1262.23 663.3,1263.28 664.4,1264.32 665.6,1265.37 666.8,1266.41 668.2,1267.32 669.8,1268.08 671.4,1268.83 673.0,1269.59 674.6,1270.34 676.4,1270.98 678.2,1271.44 680.1,1271.89 682.0,1272.33 683.9,1272.78 685.7,1273.31 687.4,1273.97 689.1,1274.64 690.7,1275.36 691.9,1276.35 692.9,1277.48 693.9,1278.61 694.8,1279.74 695.8,1280.87 696.8,1281.99 698.0,1282.97 699.4,1283.88 700.9,1284.79 702.3,1285.69 703.7,1286.60 705.0,1287.61 706.1,1288.68 707.2,1289.76 708.3,1290.83 709.4,1291.91 710.5,1292.98 711.6,1294.03 712.9,1295.01 714.2,1295.99 715.6,1296.96 716.9,1297.94 718.2,1298.92 719.4,1299.93 720.6,1300.96 721.8,1301.99 723.0,1303.03 724.2,1304.06 725.4,1305.06 727.0,1305.79 728.8,1306.39 730.6,1306.98 732.4,1307.55 734.3,1307.95 736.2,1308.26 738.2,1308.56 740.1,1308.87 742.0,1309.20 743.8,1309.79 745.5,1310.49 747.1,1311.18 748.8,1311.87 750.5,1312.56 752.2,1313.23 754.0,1313.88 755.7,1314.54 757.4,1315.20 759.2,1315.79 761.1,1316.14 763.0,1316.45 765.0,1316.73 767.0,1316.77 769.0,1316.77 771.0,1316.77 773.0,1316.77 775.0,1316.77 777.0,1316.77 779.0,1316.77 781.0,1316.77 783.0,1316.77 785.0,1316.77 787.0,1316.77 789.0,1316.77 791.0,1316.77 793.0,1316.77 795.0,1316.77 797.0,1316.77 799.0,1316.77 801.0,1316.77 803.0,1316.77 805.0,1316.77 807.0,1316.77 809.0,1316.77 811.0,1316.77 813.0,1316.77 815.0,1316.77 817.0,1316.77 819.0,1316.77 821.0,1316.77 822.9,1316.76 824.6,1316.29 825.9,1315.33 827.4,1314.60 829.3,1314.50 831.3,1314.49 833.3,1314.49 835.3,1314.48 837.3,1314.47 839.3,1314.46 841.3,1314.45 843.3,1314.44 845.3,1314.43 847.3,1314.42 849.3,1314.41 851.3,1314.40 853.3,1314.39 855.3,1314.38 857.3,1314.37 859.3,1314.36 861.3,1314.35 863.3,1314.34 865.3,1314.33 867.3,1314.32 869.3,1314.31 871.3,1314.30 873.3,1314.29 875.3,1314.28 877.3,1314.27 879.3,1314.26 881.3,1314.25 883.3,1314.24 885.3,1314.23 887.3,1314.22 889.3,1314.21 891.3,1314.21 893.1,1314.48 894.3,1315.45 895.4,1316.51 897.0,1317.08 898.9,1317.10 900.9,1317.10 902.9,1317.10 904.9,1317.10 906.9,1317.10 908.9,1317.10 910.9,1317.10 912.9,1317.10 914.9,1317.10 916.9,1317.10 918.9,1317.10 920.9,1317.09 922.5,1316.57 923.6,1315.52 924.8,1314.53 926.5,1314.20 928.5,1314.19 930.5,1314.19 932.5,1314.19 934.5,1314.19 936.5,1314.19 938.5,1314.19 940.5,1314.19 942.5,1314.19 944.5,1314.19 946.5,1314.19 948.5,1314.19 950.5,1314.19 952.5,1314.19 954.5,1314.20 956.3,1314.54 957.5,1315.50 958.8,1316.45 960.5,1316.79 962.5,1316.83 964.5,1316.86 966.5,1316.89 968.5,1316.92 970.5,1316.95 972.5,1316.98 974.5,1317.01 976.5,1317.04 978.5,1317.08 980.3,1317.40 981.8,1318.24 983.3,1318.94 985.3,1319.03 987.3,1319.03 989.3,1319.03 991.3,1319.03 993.3,1319.03 995.3,1319.03 997.3,1319.03 999.3,1319.03 1001.3,1319.03 1003.3,1319.03 1005.3,1319.03 1007.3,1319.03 1009.3,1319.03 1011.3,1319.03 1013.3,1319.03 1015.3,1319.03 1017.3,1319.03 1019.3,1319.03 1021.3,1319.03 1023.3,1319.03 1025.3,1319.03 1027.3,1319.03 1029.3,1318.99 1031.0,1318.50 1032.5,1317.73 1034.4,1317.43 1036.4,1317.42 1038.4,1317.42 1040.4,1317.43 1042.4,1317.43 1044.4,1317.43 1046.4,1317.43 1048.4,1317.44 1050.4,1317.44 1052.4,1317.44 1054.4,1317.44 1056.4,1317.44 1058.4,1317.45 1060.4,1317.45 1062.4,1317.45 1064.4,1317.45 1066.4,1317.45 1068.4,1317.46 1070.4,1317.46 1072.4,1317.46 1074.4,1317.46 1076.4,1317.46 1078.4,1317.47 1080.4,1317.47 1082.4,1317.47 1084.4,1317.47 1086.4,1317.47 1088.4,1317.48 1090.4,1317.48 1092.4,1317.48 1094.4,1317.48 1096.4,1317.48 1098.4,1317.49 1100.4,1317.49 1102.4,1317.49 1104.4,1317.49 1106.4,1317.49 1108.4,1317.50 1110.4,1317.50 1112.4,1317.50 1114.4,1317.50 1116.4,1317.51 1118.4,1317.51 1120.4,1317.51 1122.4,1317.51 1124.4,1317.51 1126.4,1317.52 1128.4,1317.52 1130.4,1317.52 1132.4,1317.52 1134.4,1317.52 1136.4,1317.53 1138.4,1317.53 1140.4,1317.53 1142.4,1317.53 1144.4,1317.53 1146.4,1317.54 1148.4,1317.54 1150.4,1317.54 1152.4,1317.54 1154.4,1317.54 1156.4,1317.55 1158.4,1317.55 1160.4,1317.55 1162.4,1317.55 1164.4,1317.55 1166.4,1317.56 1168.4,1317.56 1170.4,1317.56 1172.4,1317.56 1174.4,1317.57 1176.4,1317.57 1178.4,1317.57 1180.4,1317.57 1182.4,1317.57 1184.4,1317.58 1186.4,1317.58 1188.4,1317.58 1190.4,1317.58 1192.4,1317.58 1194.4,1317.59 1196.4,1317.59 1198.4,1317.59 1200.4,1317.59 1202.4,1317.59 1204.4,1317.60 1206.4,1317.60 1208.4,1317.60 1210.4,1317.60 1212.4,1317.60 1214.4,1317.61 1216.4,1317.61 1218.4,1317.61 1220.4,1317.61 1222.4,1317.61 1224.4,1317.62 1226.4,1317.62 1228.4,1317.62 1230.4,1317.62 1232.4,1317.62 1234.4,1317.63 1236.4,1317.63 1238.4,1317.63 1240.4,1317.63 1242.4,1317.64 1244.4,1317.64 1246.4,1317.64 1248.4,1317.64 1250.4,1317.64 1252.4,1317.65 1254.4,1317.65 1256.4,1317.65 1258.4,1317.65 1260.4,1317.65 1262.4,1317.66 1264.4,1317.66 1266.4,1317.66 1268.4,1317.66 1270.4,1317.66 1272.4,1317.67 1274.4,1317.67 1276.4,1317.67 1278.4,1317.67 1280.4,1317.67 1282.4,1317.68 1284.4,1317.68 1286.4,1317.68 1288.4,1317.68 1290.4,1317.68 1292.4,1317.69 1294.4,1317.69 1296.4,1317.69 1298.4,1317.69 1300.4,1317.69 1302.4,1317.70 1304.4,1317.70 1306.4,1317.70 1308.4,1317.70 1310.4,1317.71 1312.4,1317.71 1314.4,1317.71 1316.4,1317.71 1318.4,1317.71 1320.4,1317.72 1322.4,1317.72 1324.4,1317.72 1326.4,1317.72 1328.4,1317.72 1330.4,1317.73 1332.4,1317.73 1334.4,1317.73 1336.4,1317.73 1338.4,1317.73 1340.4,1317.74 1342.4,1317.74 1344.4,1317.74 1346.0,1317.40 1346.7,1316.28 1347.3,1315.05 1347.9,1313.82 1348.5,1312.59 1349.0,1311.35 1349.4,1310.07 1349.7,1308.80 1350.0,1307.52 1350.2,1306.25 1350.5,1304.97 1350.8,1303.69 1351.1,1302.42 1351.4,1301.14 1351.7,1299.87 1352.0,1298.59 1352.3,1297.31 1352.5,1296.03 1352.7,1294.75 1353.0,1293.47 1353.2,1292.18 1353.5,1290.90 1353.7,1289.62 1353.9,1288.34 1354.2,1287.06 1354.4,1285.78 1354.7,1284.50 1354.9,1283.22 1355.1,1281.94 1355.4,1280.65 1355.6,1279.37 1355.9,1278.10 1356.2,1276.82 1356.4,1275.54 1356.7,1274.26 1357.0,1272.98 1357.2,1271.70 1357.5,1270.42 1357.7,1269.14 1358.0,1267.86 1358.3,1266.58 1358.5,1265.31 1358.8,1264.03 1359.1,1262.75 1359.3,1261.47 1359.8,1260.22 1360.4,1259.00 1361.1,1257.78 1361.8,1256.61 1363.2,1255.91 1365.2,1255.61 1367.1,1255.78 1368.8,1256.25 1369.5,1257.37 1370.1,1258.61 1370.6,1259.85 1371.1,1261.10 1371.5,1262.37 1371.8,1263.64 1372.2,1264.91 1372.5,1266.18 1372.9,1267.45 1373.2,1268.72 1373.6,1269.99 1374.1,1271.24 1374.6,1272.49 1375.1,1273.74 1375.6,1275.00 1376.0,1276.25 1376.5,1277.50 1377.0,1278.75 1377.5,1280.00 1378.1,1281.24 1378.7,1282.47 1379.3,1283.70 1379.9,1284.94 1380.4,1286.17 1381.0,1287.40 1381.7,1288.61 1382.6,1289.77 1383.5,1290.93 1384.4,1292.08 1385.3,1293.24 1386.1,1294.40 1387.0,1295.57 1387.8,1296.75 1388.6,1297.93 1389.4,1299.11 1390.4,1300.23 1391.6,1301.24 1392.9,1302.23 1394.2,1303.22 1395.5,1304.14 1397.1,1304.95 1398.7,1305.76 1400.2,1306.61 1401.5,1307.58 1402.7,1308.57 1404.0,1309.57 1405.0,1310.64 1405.4,1311.89 1405.7,1313.17 1406.1,1314.44 1406.4,1315.71 1406.8,1316.98 1407.1,1318.25 1407.5,1319.51 1407.9,1320.78 1408.3,1322.05 1408.7,1323.31 1409.0,1324.58 1409.4,1325.85 1409.8,1327.11 1410.2,1328.37 1410.7,1329.63 1411.2,1330.89 1411.6,1332.14 1412.1,1333.40 1412.5,1334.65 1413.0,1335.91 1413.5,1337.16 1413.9,1338.42 1414.4,1339.67 1414.9,1340.92 1415.4,1342.17 1415.9,1343.42 1416.4,1344.66 1416.9,1345.91 1417.5,1347.16 1418.0,1348.40 1418.5,1349.64 1419.4,1350.81 1420.3,1351.96 1421.2,1353.12 1422.1,1354.27 1423.1,1355.36 1424.3,1356.39 1425.5,1357.43 1426.7,1358.45 1428.1,1359.40 1429.5,1360.31 1430.9,1361.22 1432.3,1362.13 1433.9,1362.84 1435.8,1363.35 1437.6,1363.86 1439.5,1364.34 1441.4,1364.57 1443.4,1364.65 1445.4,1364.73 1447.4,1364.81 1449.4,1364.89 1451.4,1364.97 1453.4,1365.05 1455.4,1365.13 1457.4,1365.21 1459.4,1365.29 1461.4,1365.37 1463.4,1365.45 1465.4,1365.50 1467.4,1365.54 1469.4,1365.58 1471.4,1365.61 1473.4,1365.65 1475.4,1365.68 1477.4,1365.72 1479.4,1365.76 1481.4,1365.79 1483.4,1365.83 1485.4,1365.86 1487.4,1365.90 1489.4,1365.94 1491.4,1365.97 1493.4,1366.01 1495.4,1366.05 1497.4,1366.08 1499.4,1366.12 1501.4,1366.13 1503.4,1366.13 1505.4,1366.13 1507.4,1366.13 1509.4,1366.13 1511.4,1366.13 1513.4,1366.13 1515.4,1366.13 1517.4,1366.13 1519.4,1366.13 1521.4,1366.13 1523.4,1366.13 1525.4,1366.13 1527.4,1366.13 1529.4,1366.13 1531.4,1366.13 1533.4,1366.13 1535.4,1366.13 1537.4,1366.13 1539.4,1366.13 1541.4,1366.13 1543.4,1366.13 1545.4,1366.13 1547.4,1366.13 1549.4,1366.13 1551.4,1366.13 1553.4,1366.13 1555.4,1366.13 1557.4,1366.13 1559.4,1366.13 1561.4,1366.13 1563.4,1366.13 1565.4,1366.13 1567.4,1366.13 1569.4,1366.13 1571.4,1366.13 1573.4,1366.13 1575.4,1366.13 1577.4,1366.13 1579.4,1366.13 1581.4,1366.13 1583.4,1366.13 1585.4,1366.13 1587.4,1366.13 1589.4,1366.13 1591.4,1366.13 1593.4,1366.13 1595.4,1366.13 1597.4,1366.13 1599.4,1366.13 1601.4,1366.13 1603.4,1366.13 1605.4,1366.13 1607.4,1366.13 1609.4,1366.13 1611.4,1366.13 1613.4,1366.13 1615.4,1366.13 1617.4,1366.13 1619.4,1366.13 1621.4,1366.13 1623.4,1366.13 1625.4,1366.13 1627.4,1366.13 1629.4,1366.13 1631.4,1366.13 1633.4,1366.13 1635.4,1366.13 1637.4,1366.13 1639.4,1366.13 1641.4,1366.13 1643.4,1366.13 1645.4,1366.13 1647.4,1366.13 1649.4,1366.13 1651.4,1366.13 1653.4,1366.13 1655.4,1366.13 1657.4,1366.13 1659.4,1366.13 1661.4,1366.13 1663.4,1366.13 1665.4,1366.13 1667.4,1366.13 1669.4,1366.13 1671.4,1366.13 1673.4,1366.13 1675.4,1366.13 1677.4,1366.13 1679.4,1366.13 1681.4,1366.13 1683.4,1366.13 1685.4,1366.13 1687.4,1366.13 1689.4,1366.13 1691.4,1366.13 1693.4,1366.13 1695.4,1366.13 1697.4,1366.13 1699.4,1366.13 1701.4,1366.13 1703.4,1366.13 1705.4,1366.13 1707.4,1366.13 1709.4,1366.13 1711.4,1366.13 1713.4,1366.13 1715.4,1366.13 1717.4,1366.13 1719.4,1366.13 1721.4,1366.13 1723.4,1366.13 1725.4,1366.13 1727.4,1366.13 1729.4,1366.13 1731.4,1366.13 1733.4,1366.13 1735.4,1366.13 1737.4,1366.13 1739.4,1366.13 1741.4,1366.13 1743.4,1366.13 1745.4,1366.13 1747.4,1366.13 1749.4,1366.13 1751.4,1366.13 1753.4,1366.13 1755.4,1366.13 1757.4,1366.13 1759.4,1366.13 1761.4,1366.13 1763.4,1366.13 1765.4,1366.13 1767.4,1366.13 1769.4,1366.13 1771.4,1366.13 1773.4,1366.13 1775.4,1366.13 1777.4,1366.13 1779.4,1366.13 1781.4,1366.13 1783.4,1366.13 1785.4,1366.13 1787.4,1366.13 1789.4,1366.13 1791.4,1366.13 1793.4,1366.13 1795.4,1366.13 1797.4,1366.13 1799.4,1366.13 1801.4,1366.13 1803.4,1366.13 1805.4,1366.13 1807.4,1366.13 1809.4,1366.13 1811.4,1366.13 1813.4,1366.13 1815.4,1366.13 1817.4,1366.13 1819.4,1366.13 1821.4,1366.13 1823.4,1366.13 1825.4,1366.13 1827.4,1366.13 1829.4,1366.13 1831.4,1366.13 1833.4,1366.13 1835.4,1366.13 1837.4,1366.13 1839.4,1366.13 1841.4,1366.13 1843.4,1366.13 1845.4,1366.13 1847.4,1366.13 1849.4,1366.13 1851.4,1366.13 1853.4,1366.13 1855.4,1366.13 1857.4,1366.13 1859.4,1366.13 1861.4,1366.13 1863.4,1366.13 1865.4,1366.13 1867.4,1366.13 1869.4,1366.13 1871.4,1366.13 1873.4,1366.13 1875.4,1366.13 1877.4,1366.13 1879.4,1366.13 1881.4,1366.13 1883.4,1366.13 1885.4,1366.13 1887.4,1366.13 1889.4,1366.13 1891.4,1366.13 1893.4,1366.13 1895.4,1366.13 1897.4,1366.13 1899.4,1366.13 1901.4,1366.13 1903.4,1366.13 1905.4,1366.13 1907.4,1366.13 1909.4,1366.13 1911.4,1366.13 1913.4,1366.13 1915.4,1366.13 1917.4,1366.13 1919.4,1366.13 1921.4,1366.13 1923.4,1366.13 1925.4,1366.13 1927.4,1366.13 1929.4,1366.13 1931.4,1366.13 1933.4,1366.13 1935.4,1366.13 1937.4,1366.13 1939.4,1366.13 1941.4,1366.13 1943.4,1366.13 1945.4,1366.13 1947.4,1366.13 1949.4,1366.13 1951.4,1366.13 1953.4,1366.13 1955.4,1366.13 1957.4,1366.13 1959.4,1366.13 1961.4,1366.13 1963.4,1366.13 1965.4,1366.13 1967.4,1366.13 1969.4,1366.13 1971.4,1366.13 1973.4,1366.13 1975.4,1366.13 1977.4,1366.13 1979.4,1366.13 1981.4,1366.13 1983.4,1366.13 1985.4,1366.13 1987.4,1366.13 1989.4,1366.13 1991.4,1366.13 1993.4,1366.13 1995.4,1366.13 1997.4,1366.13 1999.4,1366.13 2001.4,1366.13 2003.4,1366.13 2005.4,1366.13 2007.4,1366.13 2009.4,1366.13 2011.4,1366.13 2013.4,1366.13 2015.4,1366.13 2017.4,1366.13 2019.4,1366.13 2021.4,1366.13 2023.4,1366.13 2025.4,1366.13 2027.4,1366.13 2029.4,1366.13 2031.4,1366.13 2033.4,1366.13 2035.4,1366.13 2037.4,1366.13 2039.4,1366.13 2041.4,1366.13 2043.4,1366.13 2045.4,1366.13 2047.4,1366.13 2049.4,1366.13 2051.4,1366.13 2053.4,1366.13 2055.4,1366.13 2057.4,1366.13 2059.4,1366.13 2061.4,1366.13 2063.4,1366.13 2065.4,1366.13 2067.4,1366.13 2069.4,1366.13 2071.4,1366.13 2073.4,1366.13 2075.4,1366.13 2077.4,1366.13 2079.4,1366.13 2081.4,1366.13 2083.3,1366.13 2084.4,1366.13" fill="none" stroke="#7030a0" stroke-width="4.6" stroke-linejoin="round" stroke-linecap="butt"/></g>
<polyline points="230.0,1959.6 600.0,1959.6" fill="none" stroke="#7030a0" stroke-width="7.5" stroke-linejoin="round" stroke-linecap="butt"/>
<polyline points="1035.0,2042.0 1345.0,2042.5" fill="none" stroke="#7030a0" stroke-width="8.5" stroke-linejoin="round" stroke-linecap="butt"/>
<polyline points="1460.0,2116.2 1464.3,2116.5 1500.0,2117.5 2085.0,2117.5" fill="none" stroke="#7030a0" stroke-width="10" stroke-linejoin="round" stroke-linecap="butt"/>
<text transform="translate(157.85 1504.24) scale(1.0885 1)" font-size="75.79">5</text>
<text transform="translate(160.48 1657.80) scale(0.9284 1)" font-size="76.21">4</text>
<text transform="translate(159.81 1818.83) scale(0.9850 1)" font-size="76.57">3</text>
<text transform="translate(159.09 1982.40) scale(1.0804 1)" font-size="76.36">2</text>
<text transform="translate(158.23 2137.00) scale(1.0011 1)" font-size="74.85">1</text>
<text transform="translate(159.78 2293.56) scale(1.0543 1)" font-size="74.07">0</text>
<text transform="translate(172.88 2371.67) scale(1.0215 1)" font-size="82.06">1.0</text>
<text transform="translate(546.96 2370.30) scale(1.0452 1)" font-size="73.09">2.0</text>
<text transform="translate(919.96 2370.30) scale(1.0452 1)" font-size="73.09">3.0</text>
<text transform="translate(1291.20 2370.30) scale(1.0233 1)" font-size="73.09">4.0</text>
<text transform="translate(1661.46 2369.18) scale(1.0138 1)" font-size="74.71">5.0</text>
<text transform="translate(2027.89 2369.18) scale(1.0079 1)" font-size="74.71">6.0</text>
<text transform="translate(1020.57 2493.08) scale(1.0822 1)" font-size="80.11">Time (s)</text>
<text transform="translate(99.42 2085.91) rotate(-90) scale(1.0248 1)" font-size="81.76">Power (MW)</text>
<rect x="1780" y="1521" width="252.4" height="167.0" fill="none" stroke="#000" stroke-width="4"/>
<line x1="1814.6" y1="1564.9" x2="1919.8" y2="1564.9" stroke="#ff1a1a" stroke-width="4.5" stroke-linecap="butt"/>
<line x1="1814.6" y1="1634.5" x2="1919.8" y2="1634.5" stroke="#7f3fbf" stroke-width="4.5" stroke-linecap="butt"/>
<text transform="translate(1946.31 1584.80) scale(0.9085 1)" font-size="68.09" font-style="italic">P</text>
<text transform="translate(1981.62 1584.80) scale(0.9919 1)" font-size="51.97">1</text>
<text transform="translate(1946.31 1654.60) scale(0.9045 1)" font-size="68.40" font-style="italic">P</text>
<text transform="translate(1982.06 1654.60) scale(1.0259 1)" font-size="52.88">2</text>
<text transform="translate(1036.47 1282.26) scale(0.9245 1)" font-size="84.84">(</text>
<text transform="translate(1105.29 1282.26) scale(0.9067 1)" font-size="84.84">)</text>
<text transform="translate(1063.25 1282.05) scale(0.9572 1)" font-size="85.42" font-weight="bold">a</text>
<text transform="translate(1031.27 2746.06) scale(0.9245 1)" font-size="84.84">(</text>
<text transform="translate(1109.59 2746.06) scale(0.9067 1)" font-size="84.84">)</text>
<text transform="translate(1058.09 2746.22) scale(1.0263 1)" font-size="88.37" font-weight="bold">b</text>
</svg></body></html>
